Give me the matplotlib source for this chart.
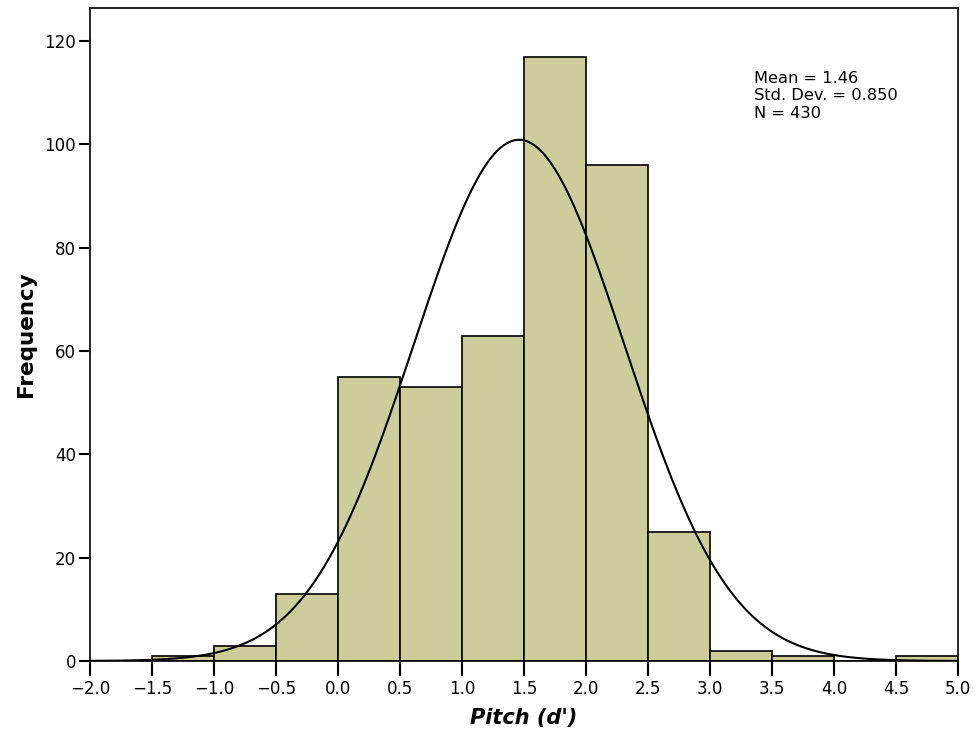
import numpy as np
import matplotlib
matplotlib.use('Agg')
from matplotlib import pyplot as plt

# Histogram data (bin edges and counts)
bin_edges = [-1.5, -1.0, -0.5, 0.0, 0.5, 1.0, 1.5, 2.0, 2.5, 3.0, 3.5, 4.0, 4.5, 5.0]
counts = [1, 3, 13, 55, 53, 63, 117, 96, 25, 2, 1, 0, 1]
mean = 1.46
std_dev = 0.850
n_total = 430
x_ticks = [-2.0, -1.5, -1.0, -0.5, 0.0, 0.5, 1.0, 1.5, 2.0, 2.5, 3.0, 3.5, 4.0, 4.5, 5.0]
y_ticks = [0, 20, 40, 60, 80, 100, 120]

fig = plt.figure(figsize=(9.79, 7.36), dpi=100)
ax = fig.add_axes([0.0919, 0.1019, 0.8866, 0.8871])

lefts = np.array(bin_edges[:-1])
widths = np.diff(bin_edges)
ax.bar(lefts, counts, width=widths, align='edge', color='#CCCD9B',
       edgecolor='black', linewidth=1.2, zorder=2)

# Normal curve scaled to counts
bw = 0.5
xs = np.linspace(-2.0, 5.0, 600)
ys = n_total * bw / (std_dev * np.sqrt(2 * np.pi)) * np.exp(-0.5 * ((xs - mean) / std_dev) ** 2)
ax.plot(xs, ys, color='black', linewidth=1.5, zorder=3)

ax.set_xlim(-2.0, 5.0)
ax.set_ylim(0, 126.4)
ax.set_xticks(x_ticks)
ax.set_xticklabels([f'{t:.1f}'.replace('-', '\u2212') for t in x_ticks])
ax.set_yticks(y_ticks)

ax.tick_params(axis='x', direction='out', length=11, width=1.5, labelsize=12, pad=3)
ax.tick_params(axis='y', direction='out', length=8, width=1.5, labelsize=12, pad=2)
for s in ax.spines.values():
    s.set_linewidth(1.2)

ax.set_xlabel("Pitch (d')", fontsize=15, fontweight='bold', fontstyle='italic', labelpad=7)
ax.set_ylabel('Frequency', fontsize=15.5, fontweight='bold', labelpad=6)

ax.text(0.765, 0.904, f'Mean = {mean:.2f}\nStd. Dev. = {std_dev:.3f}\nN = {n_total}',
        transform=ax.transAxes, fontsize=11.7, va='top', ha='left', linespacing=1.2)

fig.savefig('out.png', dpi=100)
